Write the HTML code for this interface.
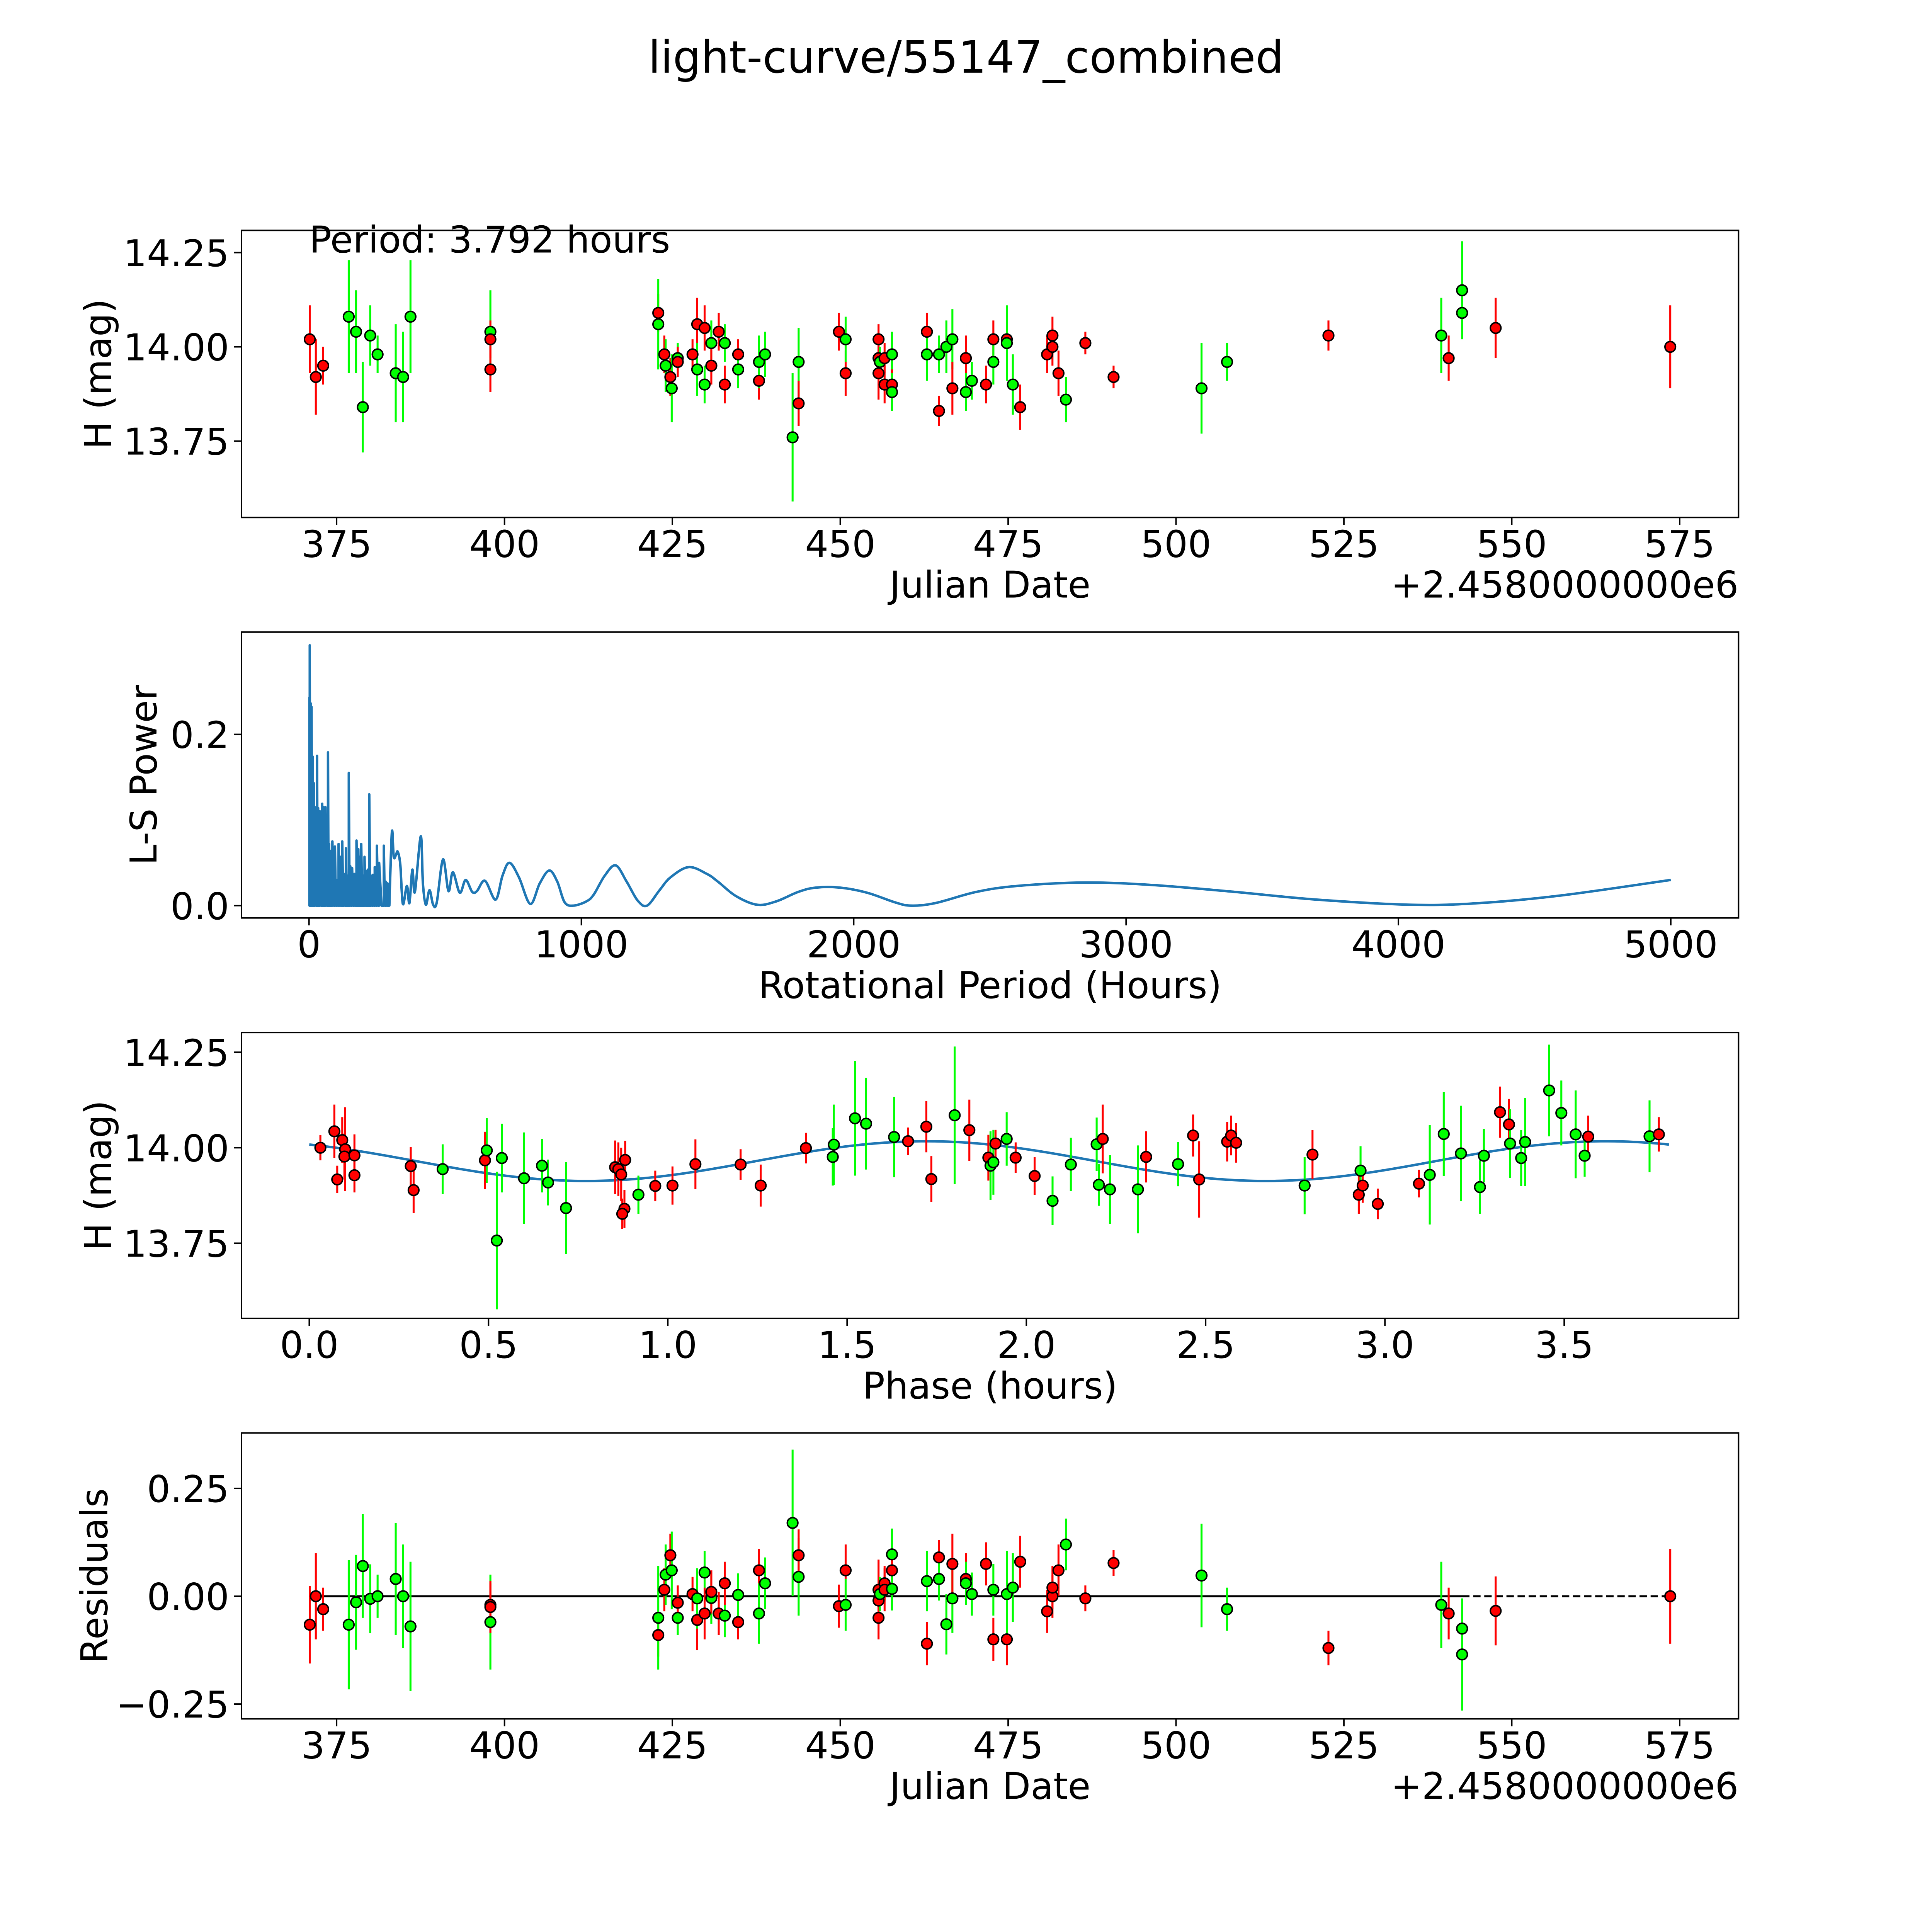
<!DOCTYPE html>
<html><head><meta charset="utf-8">
<style>
html,body{margin:0;padding:0;background:#fff;overflow:hidden;width:100vw;height:100vh;}
svg{display:block;width:100vw;height:100vh;}
text{font-family:"DejaVu Sans","Liberation Sans",sans-serif;fill:#000;}
</style></head>
<body>
<svg id="chart" xmlns="http://www.w3.org/2000/svg" viewBox="0 0 1568 1568" preserveAspectRatio="none">
<rect x="0" y="0" width="1568" height="1568" fill="#fff"/>
<text x="784" y="59" font-size="36" text-anchor="middle">light-curve/55147_combined</text>
<g id="p1"></g>
<g id="p2"></g>
<g id="p3"></g>
<g id="p4"></g>
</svg>
<script>
// ---- observation data ----
const dates = [371.0,371.9,373.0,376.8,377.9,378.9,380.0,381.1,383.8,384.9,386.0,397.9,397.9,397.9,422.9,422.9,423.8,424.0,424.7,424.9,425.8,425.8,428.0,428.7,428.7,429.8,429.8,430.8,430.8,431.9,432.8,432.8,434.8,434.8,437.9,437.9,438.8,442.9,443.8,443.8,449.8,450.8,450.8,455.7,455.7,455.7,455.9,456.6,456.6,457.7,457.7,457.7,462.9,462.9,464.7,464.7,465.8,466.7,466.7,468.7,468.7,469.6,471.7,472.8,472.8,474.8,474.8,475.7,476.8,480.8,481.6,481.6,482.5,483.6,486.5,490.7,503.8,507.6,522.7,539.5,540.6,542.6,542.6,547.6,573.6];
const mags = [14.02,13.92,13.95,14.08,14.04,13.84,14.03,13.98,13.93,13.92,14.08,14.04,14.02,13.94,14.09,14.06,13.98,13.95,13.92,13.89,13.97,13.96,13.98,14.06,13.94,13.90,14.05,14.01,13.95,14.04,14.01,13.90,13.98,13.94,13.91,13.96,13.98,13.76,13.96,13.85,14.04,13.93,14.02,14.02,13.97,13.93,13.96,13.97,13.90,13.98,13.90,13.88,14.04,13.98,13.83,13.98,14.00,14.02,13.89,13.97,13.88,13.91,13.90,14.02,13.96,14.02,14.01,13.90,13.84,13.98,14.03,14.00,13.93,13.86,14.01,13.92,13.89,13.96,14.03,14.03,13.97,14.15,14.09,14.05,14.00];
const errs = [.09,.10,.05,.15,.11,.12,.08,.05,.13,.12,.15,.11,.05,.06,.05,.12,.05,.07,.05,.09,.04,.04,.04,.07,.07,.05,.06,.06,.05,.05,.05,.05,.04,.05,.05,.07,.06,.17,.09,.06,.05,.06,.06,.04,.05,.07,.04,.04,.05,.06,.04,.05,.05,.07,.04,.05,.07,.08,.07,.06,.05,.05,.05,.05,.06,.06,.10,.08,.06,.05,.05,.05,.06,.06,.03,.03,.12,.05,.04,.10,.06,.13,.05,.08,.11];
const colors = ['r','r','r','g','g','g','g','g','g','g','g','g','r','r','r','g','r','g','r','g','g','r','r','r','g','g','r','g','r','r','g','r','r','g','r','g','g','g','g','r','r','r','g','r','r','r','g','r','r','g','r','g','r','g','r','g','g','g','r','r','g','g','r','r','g','r','g','g','r','r','r','r','r','g','r','r','g','g','r','g','r','g','g','r','r'];
const resid = [-.066,0,-.03,-.066,-.014,.07,-.006,0,.04,0,-.07,-.06,-.02,-.025,-.09,-.05,.015,.05,.095,.06,-.05,-.015,.005,-.055,-.005,.055,-.04,-.004,.01,-.04,-.045,.03,-.06,.003,.06,-.04,.03,.17,.045,.095,-.023,.06,-.02,-.01,-.05,.015,.005,.03,.015,.097,.06,.017,-.11,.035,.09,.04,-.065,-.005,.075,.04,.03,.005,.075,-.1,.015,-.1,.005,.02,.08,-.035,0,.02,.06,.12,-.005,.077,.048,-.03,-.12,-.02,-.04,-.135,-.075,-.034,0];
// ---- phase-folded data ----
const phases = [.031,.07,.078,.092,.10,.098,.126,.126,.283,.291,.372,.49,.495,.523,.537,.599,.649,.666,.716,.853,.862,.87,.881,.879,.873,.918,.965,1.013,1.077,1.203,1.259,1.385,1.46,1.463,1.522,1.553,1.631,1.67,1.721,1.735,1.80,1.841,1.894,1.90,1.908,1.914,1.945,1.97,2.023,2.073,2.124,2.196,2.202,2.213,2.233,2.311,2.334,2.423,2.465,2.482,2.56,2.571,2.585,2.776,2.798,2.927,2.932,2.938,2.98,3.095,3.125,3.164,3.212,3.265,3.276,3.321,3.346,3.349,3.38,3.391,3.458,3.492,3.532,3.557,3.567,3.738,3.764];
const phaseMags = [14.00,14.043,13.917,14.02,13.996,13.977,13.98,13.928,13.952,13.889,13.944,13.967,13.993,13.757,13.973,13.92,13.953,13.909,13.842,13.949,13.944,13.93,13.968,13.84,13.827,13.877,13.90,13.901,13.957,13.956,13.901,13.999,13.976,14.008,14.077,14.063,14.028,14.017,14.055,13.918,14.085,14.046,13.974,13.953,13.962,14.011,14.023,13.974,13.926,13.861,13.956,14.009,13.903,14.023,13.891,13.891,13.976,13.957,14.032,13.917,14.016,14.032,14.013,13.901,13.982,13.877,13.94,13.901,13.853,13.906,13.929,14.036,13.985,13.897,13.979,14.093,14.061,14.011,13.973,14.015,14.15,14.091,14.035,13.979,14.029,14.03,14.035];
const phaseErrs = [.033,.07,.036,.06,.11,.06,.055,.045,.05,.06,.065,.075,.085,.18,.09,.12,.07,.06,.12,.07,.07,.07,.05,.05,.04,.05,.04,.05,.065,.04,.055,.04,.075,.105,.15,.12,.105,.036,.067,.06,.18,.08,.06,.09,.085,.036,.07,.04,.05,.064,.07,.07,.055,.09,.09,.115,.067,.058,.055,.1,.052,.052,.052,.075,.064,.05,.064,.045,.04,.036,.13,.11,.125,.07,.07,.067,.067,.09,.073,.115,.12,.085,.115,.055,.055,.094,.045];
const phaseColors = ['r','r','r','r','r','r','r','r','r','r','g','r','g','g','g','g','g','g','g','r','r','r','r','r','r','g','r','r','r','r','r','r','g','g','g','g','g','r','r','r','g','r','r','g','g','r','g','r','r','g','g','g','g','r','g','g','r','g','r','r','r','r','r','g','r','r','g','r','r','r','g','g','g','g','g','r','r','g','g','g','g','g','g','g','r','g','r'];
const periodHours = 3.792;
const fitMean = 13.965, fitAmp = 0.052, fitPeak = 1.72;
// ---- periodogram data ----
const spikePeriods = [1.3,2.7,6.7,9.4,13.4,17.4,21.4,29.5,33.5,40.2,48.3,53.6,60.3,69.7,73.7,80.4,85.8,95.2,101.9,108.6,115.3,122,128.7,135.4,140.8,146.1,151.5,158.2,166.2,174.3,181,186.3,191.7,198.4,203.8,210.5,215.8,221.2,227.9,234.6,241.3,249.3,257.4,274.8,281.5,288.2];
const spikePowers = [.243,.304,.236,.232,.174,.143,.115,.175,.114,.110,.119,.115,.115,.179,.072,.064,.075,.069,.030,.072,.057,.075,.037,.067,.035,.155,.046,.044,.037,.076,.066,.057,.072,.035,.057,.040,.042,.130,.035,.036,.045,.070,.050,.070,.028,.026];
const smoothPeriods = [294.9,304.3,311,319,325.7,335.1,344.5,359.3,368.6,379.4,388.8,410.2,418.2,429,442.4,455.8,469.2,492,512.1,528.2,553.6,575.1,599.2,616.6,646.1,685,710.5,736,770.9,812.4,847.2,882.1,911.6,938.4,970.5,1018.8,1045.6,1085.8,1126,1166.3,1206.5,1241.3,1287,1327.1,1394.1,1461.1,1501.4,1568.4,1646.1,1715.8,1796.3,1860.6,1950,2050,2150,2210,2300,2450,2600,2850,3100,3400,3700,4050,4300,4600,5000];
const smoothPowers = [0,.086,.057,.059,.063,.048,.002,.023,.003,.042,.016,.081,.026,.001,.018,.001,.004,.054,.017,.039,.015,.030,.016,.017,.029,.007,.035,.050,.033,.002,.026,.041,.028,.004,0,.005,.013,.035,.047,.028,.006,0,.018,.033,.045,.037,.028,.011,.001,.005,.016,.021,.021,.015,.004,0,.003,.016,.023,.027,.024,.016,.007,.001,.003,.012,.030];
const dateTicks = [375,400,425,450,475,500,525,550,575];
const magTicks = [14.25,14.00,13.75];
const powerTicks = [0.0,0.2];
const periodTicks = [0,1000,2000,3000,4000,5000];
const phaseTicks = [0.0,0.5,1.0,1.5,2.0,2.5,3.0,3.5];
const residTicks = [0.25,0.00,-0.25];

const NS = 'http://www.w3.org/2000/svg';
const AX_L = 196, AX_R = 1411;
function mk(parent, tag, attrs) {
  const e = document.createElementNS(NS, tag);
  for (const k in attrs) e.setAttribute(k, attrs[k]);
  parent.appendChild(e);
  return e;
}
function lin(d0, d1, p0, p1) { return v => p0 + (v - d0) * (p1 - p0) / (d1 - d0); }
const xDate = lin(375, 575, 273.2, 1363.2);
const xPeriod = lin(0, 5000, 250.8, 1356);
const xPhase = lin(0, 3.5, 251, 1269.5);
const yMag1 = lin(14.25, 13.75, 205, 358);
const yPow = lin(0, 0.2, 735, 596);
const yMag3 = lin(14.25, 13.75, 854, 1009);
const yRes = lin(0.25, -0.25, 1208, 1383);
const COL = {r: '#ff0000', g: '#00ff00'};

function frame(g, top, bot, xs, xfun, xfmt, ys, yfun, yfmt, xlabel, ylabel, ylabelX) {
  const fr = mk(g, 'rect', {x: AX_L, y: top, width: AX_R - AX_L, height: bot - top, fill: 'none', stroke: '#000', 'stroke-width': 1.2});
  
  
  xs.forEach(v => {
    const x = xfun(v);
    const t = mk(g, 'line', {x1: x, x2: x, y1: bot, y2: bot + 6, stroke: '#000', 'stroke-width': 1.2});
    
    
    const l = mk(g, 'text', {x: x, y: bot + 32, 'font-size': 30, 'text-anchor': 'middle'});
    
    
    l.textContent = xfmt(v);
  });
  ys.forEach(v => {
    const y = yfun(v);
    const t = mk(g, 'line', {x1: AX_L - 6, x2: AX_L, y1: y, y2: y, stroke: '#000', 'stroke-width': 1.2});
    
    
    const l = mk(g, 'text', {x: AX_L - 10, y: y + 11, 'font-size': 30, 'text-anchor': 'end'});
    
    
    l.textContent = yfmt(v);
  });
  const xl = mk(g, 'text', {x: 803.5, y: bot + 65, 'font-size': 30, 'text-anchor': 'middle'});
  
  
  xl.textContent = xlabel;
  const cy = (top + bot) / 2;
  const yl = mk(g, 'text', {x: ylabelX, y: cy, 'font-size': 30, 'text-anchor': 'middle', transform: 'rotate(-90 ' + ylabelX + ' ' + cy + ')'});
  
  
  yl.textContent = ylabel;
}
function offsetText(g, bot) {
  const t = mk(g, 'text', {x: AX_R, y: bot + 65, 'font-size': 30, 'text-anchor': 'end'});
  
  
  t.textContent = '+2.4580000000e6';
}
function errPoints(g, xv, yv, ev, cv, xf, yf) {
  for (let i = 0; i < xv.length; i++) {
    const x = xf(xv[i]);
    const b = mk(g, 'line', {x1: x, x2: x, y1: yf(yv[i] + ev[i]), y2: yf(yv[i] - ev[i]), stroke: COL[cv[i]], 'stroke-width': 1.6});
    
    
  }
  for (let i = 0; i < xv.length; i++) {
    const c = mk(g, 'circle', {cx: xf(xv[i]), cy: yf(yv[i]), r: 4.3, fill: COL[cv[i]], stroke: '#000', 'stroke-width': 1.2});
    
    
  }
}
const f2 = v => (v < 0 ? '\u2212' + Math.abs(v).toFixed(2) : v.toFixed(2));

// Panel 1
const g1 = document.getElementById('p1');
frame(g1, 187, 420, dateTicks, xDate, v => String(v), magTicks, yMag1, f2, 'Julian Date', 'H (mag)', 90);
offsetText(g1, 420);
errPoints(g1, dates, mags, errs, colors, xDate, yMag1);
const pt = mk(g1, 'text', {x: 251, y: 205, 'font-size': 30});


pt.textContent = 'Period: ' + periodHours.toFixed(3) + ' hours';

// Panel 2
const g2 = document.getElementById('p2');
frame(g2, 513, 745, periodTicks, xPeriod, v => String(v), powerTicks, yPow, v => v.toFixed(1), 'Rotational Period (Hours)', 'L-S Power', 127);
let d = '';
for (let i = 0; i < spikePeriods.length; i++) {
  const x = xPeriod(spikePeriods[i]).toFixed(2);
  d += (i === 0 ? 'M' + x + ' ' + yPow(0) : 'L' + x + ' ' + yPow(0)) + ' L' + x + ' ' + yPow(spikePowers[i]).toFixed(2) + ' ';
  const xn = i + 1 < spikePeriods.length ? spikePeriods[i + 1] : smoothPeriods[0];
  d += 'L' + xPeriod((spikePeriods[i] + xn) / 2).toFixed(2) + ' ' + yPow(0) + ' ';
}
const sp = smoothPeriods.map(xPeriod), sv = smoothPowers.map(yPow);
d += 'L' + sp[0] + ' ' + sv[0] + ' ';
for (let i = 0; i < sp.length - 1; i++) {
  const p0x = sp[Math.max(i - 1, 0)], p0y = sv[Math.max(i - 1, 0)];
  const p3x = sp[Math.min(i + 2, sp.length - 1)], p3y = sv[Math.min(i + 2, sp.length - 1)];
  const c1x = sp[i] + (sp[i + 1] - p0x) / 6, c1y = sv[i] + (sv[i + 1] - p0y) / 6;
  const c2x = sp[i + 1] - (p3x - sp[i]) / 6, c2y = sv[i + 1] - (p3y - sv[i]) / 6;
  d += 'C' + c1x.toFixed(2) + ' ' + c1y.toFixed(2) + ' ' + c2x.toFixed(2) + ' ' + c2y.toFixed(2) + ' ' + sp[i + 1].toFixed(2) + ' ' + sv[i + 1].toFixed(2) + ' ';
}
const pg = mk(g2, 'path', {d: d, fill: 'none', stroke: '#1f77b4', 'stroke-width': 2, 'stroke-linejoin': 'round'});



// Panel 3
const g3 = document.getElementById('p3');
frame(g3, 838, 1070, phaseTicks, xPhase, v => v.toFixed(1), magTicks, yMag3, f2, 'Phase (hours)', 'H (mag)', 90);
let fd = '';
const N = 200;
for (let i = 0; i <= N; i++) {
  const ph = periodHours * i / N;
  const m = fitMean + fitAmp * Math.cos(2 * Math.PI * (ph - fitPeak) / (periodHours / 2));
  fd += (i ? 'L' : 'M') + xPhase(ph).toFixed(2) + ' ' + yMag3(m).toFixed(2) + ' ';
}
const fit = mk(g3, 'path', {d: fd, fill: 'none', stroke: '#1f77b4', 'stroke-width': 2});


errPoints(g3, phases, phaseMags, phaseErrs, phaseColors, xPhase, yMag3);

// Panel 4
const g4 = document.getElementById('p4');
frame(g4, 1163, 1395, dateTicks, xDate, v => String(v), residTicks, yRes, f2, 'Julian Date', 'Residuals', 87);
offsetText(g4, 1395);
const zl = mk(g4, 'line', {x1: xDate(dates[0]), x2: xDate(542.6), y1: yRes(0), y2: yRes(0), stroke: '#000', 'stroke-width': 1.6});


const zd = mk(g4, 'line', {x1: xDate(542.6), x2: xDate(dates[dates.length - 1]), y1: yRes(0), y2: yRes(0), stroke: '#000', 'stroke-width': 1.6, 'stroke-dasharray': '6 3'});


errPoints(g4, dates, resid, errs, colors, xDate, yRes);
</script>
</body></html>
